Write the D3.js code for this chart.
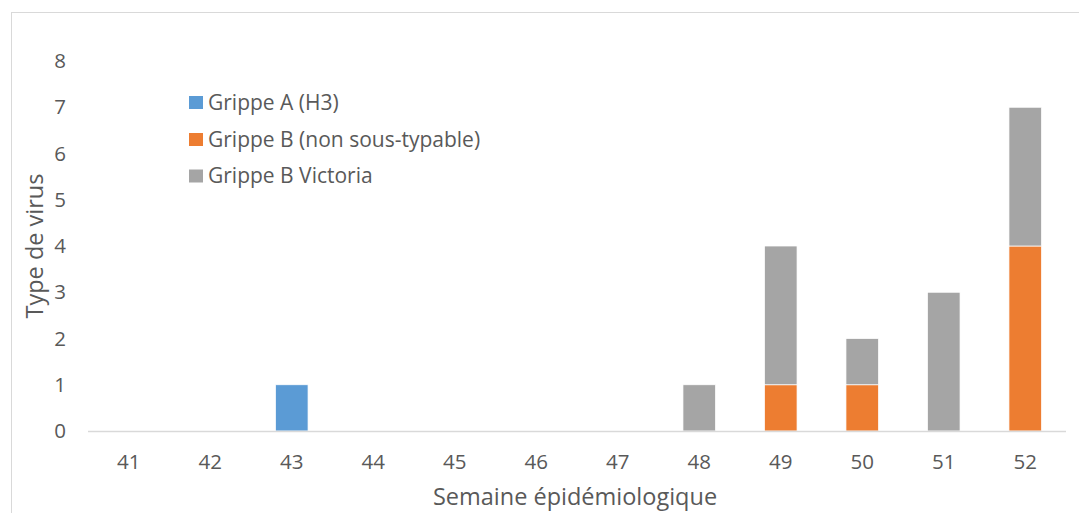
<!DOCTYPE html>
<html><head><meta charset="utf-8">
<script src="https://cdn.jsdelivr.net/npm/d3@7"></script>
<style>body{margin:0;background:#fff}svg{display:block}text{font-family:"Open Sans",Lato,sans-serif;fill:#595959}</style>
</head><body><svg id="c" width="1079" height="513"></svg>
<script>
const weeks = ["41","42","43","44","45","46","47","48","49","50","51","52"];
const grippeA_H3 = [0,0,1,0,0,0,0,0,0,0,0,0];
const grippeB_nonSousTypable = [0,0,0,0,0,0,0,0,1,1,0,4];
const grippeB_Victoria = [0,0,0,0,0,0,0,1,3,1,3,3];
const seriesNames = ["Grippe A (H3)","Grippe B (non sous-typable)","Grippe B Victoria"];
const seriesColors = ["#5B9BD5","#ED7D31","#A5A5A5"];
const yTicks = [0,1,2,3,4,5,6,7,8];

const svg = d3.select("#c");
svg.append("rect").attr("x",11.5).attr("y",12.5).attr("width",1100).attr("height",600)
  .attr("fill","#fff").attr("stroke","#D9D9D9").attr("stroke-width",1);

const x = d3.scaleBand().domain(weeks).range([88,1066]).paddingInner(0.6).paddingOuter(0.3);
const y = d3.scaleLinear().domain([0,8]).range([431,61]);

const table = weeks.map((w,i)=>({week:w,a:grippeA_H3[i],b:grippeB_nonSousTypable[i],v:grippeB_Victoria[i]}));
const stack = d3.stack().keys(["a","b","v"])(table);

// y tick labels
svg.append("g").selectAll("text").data(yTicks).join("text")
  .attr("x",66).attr("y",d=>y(d)).attr("dy","0.35em").attr("text-anchor","end")
  .style("font-size","20.5px").text(d=>d);

// bars
stack.forEach((s,k)=>{
  svg.append("g").selectAll("rect").data(s.filter(d=>d[1]>d[0])).join("rect")
    .attr("x",d=>x(d.data.week)).attr("width",x.bandwidth())
    .attr("y",d=>y(d[1])).attr("height",d=>y(d[0])-y(d[1]))
    .attr("fill",seriesColors[k]).attr("stroke","#fff").attr("stroke-width",0.75);
});

// x axis line
svg.append("line").attr("x1",88).attr("x2",1066).attr("y1",431.5).attr("y2",431.5)
  .attr("stroke","#D9D9D9").attr("stroke-width",1.5);

// x labels
svg.append("g").selectAll("text").data(weeks).join("text")
  .attr("x",d=>x(d)+x.bandwidth()/2).attr("y",462).attr("dy","0.35em").attr("text-anchor","middle")
  .style("font-size","20.5px").text(d=>d);

// axis titles
svg.append("text").attr("x",575).attr("y",497).attr("dy","0.35em").attr("text-anchor","middle")
  .style("font-size","23.5px").text("Semaine épidémiologique");
svg.append("text").attr("transform","translate(35,246) rotate(-90)").attr("dy","0.35em")
  .attr("text-anchor","middle").style("font-size","23.5px").text("Type de virus");

// legend
const leg = svg.append("g");
const legY = [102.5,139.5,176];
seriesNames.forEach((n,i)=>{
  leg.append("rect").attr("x",189).attr("y",legY[i]-6.5).attr("width",14).attr("height",13).attr("fill",seriesColors[i]);
  leg.append("text").attr("x",208).attr("y",legY[i]).attr("dy","0.35em").style("font-size","21px").text(n);
});
</script></body></html>
